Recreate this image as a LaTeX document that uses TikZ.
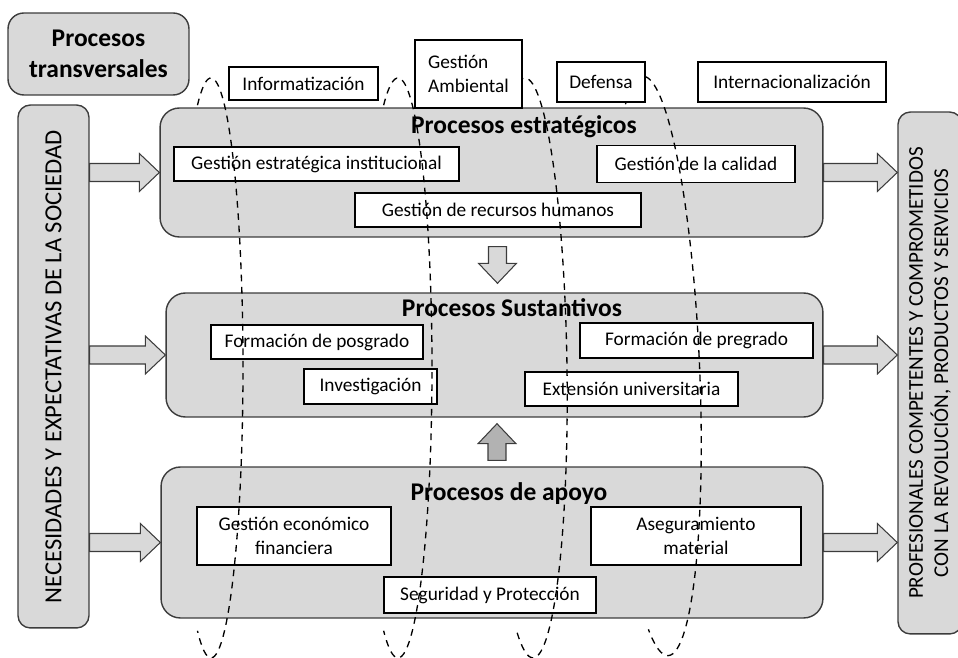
\documentclass[tikz,border=0pt]{standalone}
\usepackage{fontspec}
\setmainfont{Carlito}
\usepackage{tikz}
\usetikzlibrary{calc}
\definecolor{boxgray}{HTML}{D9D9D9}
\definecolor{upgray}{HTML}{B2B2B2}
\definecolor{edgegray}{HTML}{3C3C3C}
\tikzstyle{bigbox} = [rectangle, rounded corners=11pt, draw=edgegray, line width=0.8pt, fill=boxgray]
\tikzstyle{sidebox} = [rectangle, rounded corners=7pt, draw=edgegray, line width=0.8pt, fill=boxgray, align=center]
\tikzstyle{titlebox} = [rectangle, rounded corners=9pt, draw=edgegray, line width=0.8pt, fill=boxgray, align=center, font=\fontsize{14.5}{18}\selectfont\bfseries]
\tikzstyle{titletext} = [font=\fontsize{14.5}{17}\selectfont\bfseries]
\tikzstyle{smallbox} = [rectangle, draw=black, line width=0.7pt, fill=white, align=center, font=\fontsize{11}{13.4}\selectfont]
\tikzstyle{fatline} = [draw=edgegray, line width=0.6pt]
\tikzstyle{ringline} = [draw=black, line width=0.75pt, dash pattern=on 3.8pt off 3.2pt]
\newcommand{\fatarrow}[3][boxgray]{\draw[fatline, fill=#1] (#3) -- ($(#3)!0.552cm!43.5:(#2)$) -- ($(#3)!0.439cm!24.2:(#2)$) -- ($(#2)!0.18cm!-90:(#3)$) -- ($(#2)!0.18cm!90:(#3)$) -- ($(#3)!0.439cm!-24.2:(#2)$) -- ($(#3)!0.552cm!-43.5:(#2)$) -- cycle;}
\newcommand{\ring}[3]{\draw[ringline, shift={(#1)}, rotate=#3] (115:#2 and 5.8cm) arc[start angle=115, end angle=-115, x radius=#2, y radius=5.8cm];}

\begin{document}
\begin{tikzpicture}[x=0.02cm, y=-0.02cm]
\useasboundingbox (0,0) rectangle (958,658);
\clip (0,0) rectangle (958,658);

\node (trans) [titlebox, minimum width=3.62cm, minimum height=1.64cm] at (98.5,54) {Procesos\\transversales};
\node (need) [sidebox, rotate=90, minimum width=10.46cm, minimum height=1.42cm, font=\fontsize{14}{17}\selectfont] at (53.5,366.5) {NECESIDADES Y EXPECTATIVAS DE LA SOCIEDAD};
\node (out) [sidebox, rotate=90, minimum width=10.44cm, minimum height=1.28cm, font=\fontsize{12}{14.5}\selectfont] at (930,373) {PROFESIONALES COMPETENTES Y COMPROMETIDOS\\CON LA REVOLUCIÓN, PRODUCTOS Y SERVICIOS};

\node (est) [bigbox, minimum width=13.26cm, minimum height=2.58cm] at (491.5,172.5) {};
\node (sust) [bigbox, minimum width=13.14cm, minimum height=2.48cm] at (494.5,355) {};
\node (apoyo) [bigbox, minimum width=13.24cm, minimum height=3.02cm] at (492,542.5) {};

\node (estT) [titletext] at (524,127) {Procesos estratégicos};
\node (sustT) [titletext] at (512,308) {Procesos Sustantivos};
\node (apoyoT) [titletext] at (509,494) {Procesos de apoyo};

\node (gei) [smallbox, minimum width=5.7cm, minimum height=0.68cm] at (316.5,164) {Gestión estratégica institucional};
\node (grh) [smallbox, minimum width=5.72cm, minimum height=0.68cm] at (498,210) {Gestión de recursos humanos};
\node (gc) [smallbox, minimum width=3.96cm, minimum height=0.74cm] at (696,164) {Gestión de la calidad};
\node (fpos) [smallbox, minimum width=4.24cm, minimum height=0.68cm] at (317,342) {Formación de posgrado};
\node (inv) [smallbox, minimum width=2.66cm, minimum height=0.7cm] at (370.5,386.5) {Investigación};
\node (fpre) [smallbox, minimum width=4.66cm, minimum height=0.7cm] at (696.5,340.5) {Formación de pregrado};
\node (ext) [smallbox, minimum width=4.26cm, minimum height=0.68cm] at (631.5,389) {Extensión universitaria};
\node (gef) [smallbox, minimum width=3.88cm, minimum height=1.16cm] at (294,536) {Gestión económico\\financiera};
\node (am) [smallbox, minimum width=4.2cm, minimum height=1.16cm] at (696,536) {Aseguramiento\\material};
\node (syp) [smallbox, minimum width=4.24cm, minimum height=0.72cm] at (490,595) {Seguridad y Protección};

\coordinate (a1) at (need.south |- est.west);
\coordinate (a2) at (need.south |- sust.west);
\coordinate (a3) at (need.south |- apoyo.west);
\coordinate (b1) at (out.north |- est.east);
\coordinate (b2) at (out.north |- sust.east);
\coordinate (b3) at (out.north |- apoyo.east);
\coordinate (c1) at ($(est.south)+(6,9)$);
\coordinate (c2) at ($(sust.north)+(3,-9)$);
\coordinate (d1) at ($(apoyo.north)+(5,-6)$);
\coordinate (d2) at ($(sust.south)+(2.5,6)$);

\fatarrow{a1}{est.west}
\fatarrow{a2}{sust.west}
\fatarrow{a3}{apoyo.west}
\fatarrow{est.east}{b1}
\fatarrow{sust.east}{b2}
\fatarrow{apoyo.east}{b3}
\fatarrow{c1}{c2}
\fatarrow[upgray]{d1}{d2}

\ring{211,368}{0.64cm}{0}
\ring{398,368}{0.68cm}{0}
\ring{529,368}{0.76cm}{0.8}
\ring{655.5,366}{0.88cm}{2.5}

\node (inf) [smallbox, minimum width=2.98cm, minimum height=0.66cm] at (303.5,83.5) {Informatización};
\node (amb) [smallbox, minimum width=2.14cm, minimum height=1.36cm, align=left] at (468.5,74) {Gestión\\Ambiental};
\node (def) [smallbox, minimum width=1.76cm, minimum height=0.8cm] at (601,82) {Defensa};
\node (intl) [smallbox, minimum width=3.76cm, minimum height=0.8cm] at (792,82) {Internacionalización};

\end{tikzpicture}
\end{document}
